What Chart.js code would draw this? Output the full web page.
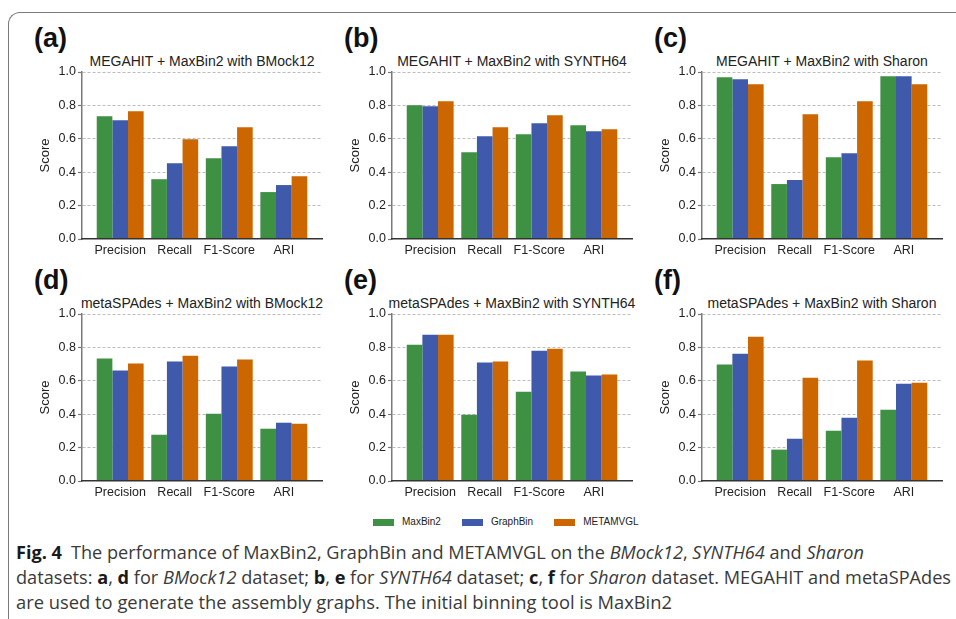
<!DOCTYPE html>
<html>
<head>
<meta charset="utf-8">
<script src="https://cdn.jsdelivr.net/npm/chart.js@4.4.1/dist/chart.umd.min.js"></script>
<style>
  body { margin: 0; background: #fff; width: 956px; height: 619px; overflow: hidden; position: relative; font-family: "Liberation Sans", Arial, sans-serif; }
  .frame { position: absolute; left: 8px; top: 12px; width: 1000px; height: 700px; border-left: 1.5px solid #7a7a7a; border-top: 1.5px solid #7a7a7a; border-top-left-radius: 12px; }
  .letter { position: absolute; font-weight: bold; font-size: 27px; line-height: 27px; color: #111; }
  .ptitle { position: absolute; width: 360px; text-align: center; font-size: 14px; line-height: 16px; color: #222; white-space: nowrap; }
  canvas { position: absolute; }
  .legend { position: absolute; left: 373px; top: 516px; display: flex; align-items: center; font-size: 10px; color: #222; }
  .legend .sw { width: 21px; height: 7px; margin-right: 8px; }
  .legend .lb { margin-right: 21px; line-height: 12px; }
  .cap { position: absolute; left: 16px; font-family: "Open Sans", sans-serif; font-size: 18px; line-height: 25px; color: #3a3a3a; white-space: nowrap; transform-origin: 0 50%; }
  .cap b { color: #1a1a1a; }
</style>
</head>
<body>
<div class="frame"></div>
<div class="legend" id="legend"></div>
<div class="cap" style="top:540px" data-w="848"><b>Fig. 4</b>&ensp;The performance of MaxBin2, GraphBin and METAMVGL on the <i>BMock12</i>, <i>SYNTH64</i> and <i>Sharon</i></div>
<div class="cap" style="top:565px" data-w="935">datasets: <b>a</b>, <b>d</b> for <i>BMock12</i> dataset; <b>b</b>, <b>e</b> for <i>SYNTH64</i> dataset; <b>c</b>, <b>f</b> for <i>Sharon</i> dataset. MEGAHIT and metaSPAdes</div>
<div class="cap" style="top:590px" data-w="656">are used to generate the assembly graphs. The initial binning tool is MaxBin2</div>
<script>
const categories = ["Precision", "Recall", "F1-Score", "ARI"];
const methods = ["MaxBin2", "GraphBin", "METAMVGL"];
const methodColors = ["#3e9142", "#3f5aab", "#cc6600"];
const yTicks = [0, 0.2, 0.4, 0.6, 0.8, 1.0];

const panelLetters = ["(a)", "(b)", "(c)", "(d)", "(e)", "(f)"];
const panelTitles = [
  "MEGAHIT + MaxBin2 with BMock12",
  "MEGAHIT + MaxBin2 with SYNTH64",
  "MEGAHIT + MaxBin2 with Sharon",
  "metaSPAdes + MaxBin2 with BMock12",
  "metaSPAdes + MaxBin2 with SYNTH64",
  "metaSPAdes + MaxBin2 with Sharon"
];

// rows: MaxBin2, GraphBin, METAMVGL
const scoresA = [[0.735, 0.358, 0.484, 0.281], [0.711, 0.454, 0.556, 0.323], [0.765, 0.598, 0.669, 0.376]];
const scoresB = [[0.801, 0.520, 0.627, 0.681], [0.795, 0.616, 0.693, 0.645], [0.825, 0.669, 0.741, 0.657]];
const scoresC = [[0.968, 0.329, 0.490, 0.974], [0.956, 0.353, 0.514, 0.974], [0.926, 0.747, 0.825, 0.926]];
const scoresD = [[0.733, 0.277, 0.403, 0.313], [0.661, 0.715, 0.685, 0.349], [0.703, 0.750, 0.727, 0.343]];
const scoresE = [[0.816, 0.397, 0.535, 0.655], [0.876, 0.709, 0.780, 0.631], [0.876, 0.715, 0.792, 0.637]];
const scoresF = [[0.697, 0.188, 0.301, 0.427], [0.762, 0.253, 0.379, 0.583], [0.864, 0.619, 0.721, 0.589]];
const panelScores = [scoresA, scoresB, scoresC, scoresD, scoresE, scoresF];

// layout of the plot areas
const colLeft = [82, 392, 702];
const rowTop = [72, 314];
const plotW = 240, plotH = 167;
const axisW = 62, padTop = 12, padRight = 8, xAxisH = 24;
const fam = "'Liberation Sans', Arial, sans-serif";

panelScores.forEach((scores, p) => {
  const left = colLeft[p % 3];
  const top = rowTop[Math.floor(p / 3)];

  const letter = document.createElement("div");
  letter.className = "letter";
  letter.textContent = panelLetters[p];
  letter.style.left = (left - 48) + "px";
  letter.style.top = (top - 47) + "px";
  document.body.appendChild(letter);

  const title = document.createElement("div");
  title.className = "ptitle";
  title.textContent = panelTitles[p];
  title.style.left = (left + plotW / 2 - 180) + "px";
  title.style.top = (top - 19) + "px";
  document.body.appendChild(title);

  const cv = document.createElement("canvas");
  cv.width = axisW + plotW + padRight;
  cv.height = padTop + plotH + xAxisH;
  cv.style.left = (left - axisW) + "px";
  cv.style.top = (top - padTop) + "px";
  document.body.appendChild(cv);

  new Chart(cv.getContext("2d"), {
    type: "bar",
    data: {
      datasets: methods.map((m, i) => ({
        label: m,
        data: scores[i].map((v, k) => ({ x: k, y: v })),
        backgroundColor: methodColors[i],
        borderWidth: 0,
        categoryPercentage: 0.86,
        barPercentage: 1
      }))
    },
    options: {
      responsive: false,
      animation: false,
      layout: { padding: { top: padTop, right: padRight, left: 0, bottom: 0 } },
      plugins: { legend: { display: false }, tooltip: { enabled: false } },
      scales: {
        x: {
          type: "linear",
          offset: false,
          min: -0.7,
          max: 3.7,
          afterBuildTicks: ax => { ax.ticks = categories.map((c, i) => ({ value: i })); },
          afterFit: ax => { ax.height = xAxisH; },
          grid: { display: false, drawTicks: false, offset: false },
          border: { display: true, color: "#333", width: 1.5, z: 1 },
          ticks: {
            callback: v => categories[v] ?? "",
            font: { family: fam, size: 12.5 },
            color: "#222",
            padding: 4,
            maxRotation: 0,
            autoSkip: false
          }
        },
        y: {
          min: 0,
          max: 1,
          afterBuildTicks: ax => { ax.ticks = yTicks.map(v => ({ value: v })); },
          afterFit: ax => { ax.width = axisW; },
          grid: {
            color: c => (c.tick && c.tick.value === 0) ? "rgba(0,0,0,0)" : "#bdbdbd",
            lineWidth: 1,
            tickColor: "#777",
            tickLength: 4,
            tickWidth: 1.2
          },
          border: { display: true, color: "#7a7a7a", width: 1.5, dash: [3, 2] },
          ticks: {
            callback: v => v.toFixed(1),
            font: { family: fam, size: 12.5 },
            color: "#222",
            padding: 2
          },
          title: {
            display: true,
            text: "Score",
            font: { family: fam, size: 13 },
            color: "#222",
            padding: { top: 18, bottom: 0 }
          }
        }
      }
    }
  });
});

const legend = document.getElementById("legend");
methods.forEach((m, i) => {
  const sw = document.createElement("span");
  sw.className = "sw";
  sw.style.background = methodColors[i];
  const lb = document.createElement("span");
  lb.className = "lb";
  lb.textContent = m;
  legend.appendChild(sw);
  legend.appendChild(lb);
});

document.fonts.ready.then(() => {
  document.querySelectorAll(".cap").forEach(el => {
    const w = el.getBoundingClientRect().width;
    el.style.transform = `scaleX(${(+el.dataset.w) / w})`;
  });
});
</script>
</body>
</html>
